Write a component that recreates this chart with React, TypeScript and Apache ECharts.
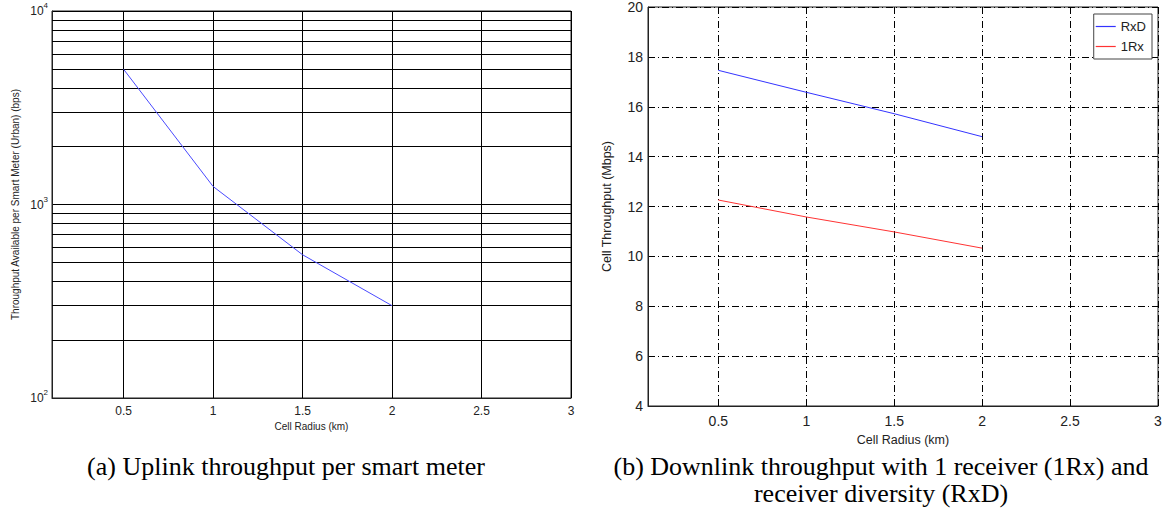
import React, { useEffect, useRef } from "react";
import * as echarts from "echarts";

// Left chart: uplink throughput per smart meter (log scale)
const radiusKm = [0.5, 1, 1.5, 2];
const uplinkBps = [5000, 1240, 550, 300];
const logMinorLines = [200, 300, 400, 500, 600, 700, 800, 900, 2000, 3000, 4000, 5000, 6000, 7000, 8000, 9000];

// Right chart: downlink throughput
const rxdMbps = [17.46, 16.58, 15.72, 14.8];
const oneRxMbps = [12.26, 11.58, 10.98, 10.33];
const seriesNames = ["RxD", "1Rx"];

const captionA = "(a) Uplink throughput per smart meter";
const captionB1 = "(b) Downlink throughput with 1 receiver (1Rx) and";
const captionB2 = "receiver diversity (RxD)";

const SANS = "'Liberation Sans', Arial, sans-serif";
const SERIF = "'Liberation Serif', 'Times New Roman', serif";
const DASHDOT = [7, 3, 1, 3];

function halfTick(v: number): string {
  return Math.abs(v * 2 - Math.round(v * 2)) < 1e-6 ? String(v) : "";
}

export default function App() {
  const ref = useRef<HTMLDivElement>(null);
  useEffect(() => {
    if (!ref.current) return;
    const chart = echarts.init(ref.current, null, { renderer: "svg" });
    chart.setOption({
      animation: false,
      backgroundColor: "#fff",
      grid: [
        { left: 52, right: 594, top: 11, bottom: 118, show: true, borderColor: "#222", borderWidth: 1, backgroundColor: "transparent" },
        { left: 648, right: 7, top: 6, bottom: 110, show: true, borderColor: "#222", borderWidth: 1, backgroundColor: "transparent" },
      ],
      legend: {
        data: seriesNames.map((n) => ({ name: n, icon: "rect" })),
        orient: "vertical",
        right: 13,
        top: 14,
        align: "left",
        borderColor: "#444",
        borderWidth: 1,
        padding: [6, 6, 6, 2],
        itemWidth: 20,
        itemHeight: 1.2,
        itemGap: 7,
        backgroundColor: "#fff",
        textStyle: { fontFamily: SANS, fontSize: 13, color: "#222" },
      },
      xAxis: [
        {
          type: "value",
          gridIndex: 0,
          min: 0.1,
          max: 3,
          splitNumber: 6,
          name: "Cell Radius (km)",
          nameLocation: "middle",
          nameGap: 21,
          nameTextStyle: { fontFamily: SANS, fontSize: 10, color: "#222" },
          axisLine: { show: true, lineStyle: { color: "#222" } },
          axisTick: { show: false },
          axisLabel: { fontFamily: SANS, fontSize: 12, color: "#222", margin: 7, formatter: halfTick },
          splitLine: { show: true, lineStyle: { color: "#000", width: 1, type: "solid" } },
        },
        {
          type: "value",
          gridIndex: 1,
          min: 0.1,
          max: 3,
          splitNumber: 6,
          name: "Cell Radius (km)",
          nameLocation: "middle",
          nameGap: 27,
          nameTextStyle: { fontFamily: SANS, fontSize: 12.5, color: "#222" },
          axisLine: { show: true, lineStyle: { color: "#222" } },
          axisTick: { show: false },
          axisLabel: { fontFamily: SANS, fontSize: 14, color: "#222", margin: 8, formatter: halfTick },
          splitLine: { show: true, lineStyle: { color: "#000", width: 1, type: DASHDOT } },
        },
      ],
      yAxis: [
        {
          type: "log",
          gridIndex: 0,
          logBase: 10,
          min: 100,
          max: 10000,
          name: "Throughput Available per Smart Meter (Urban) (bps)",
          nameLocation: "middle",
          nameGap: 32,
          nameTextStyle: { fontFamily: SANS, fontSize: 10, color: "#222" },
          axisLine: { show: true, lineStyle: { color: "#222" } },
          axisTick: { show: false },
          axisLabel: {
            margin: 4,
            formatter: (v: number) => "10{s|" + Math.round(Math.log10(v)) + "}",
            rich: {
              s: { fontFamily: SANS, fontSize: 8, color: "#222", padding: [0, 0, 11, 0] },
            },
            fontFamily: SANS,
            fontSize: 12,
            color: "#222",
          },
          splitLine: { show: true, lineStyle: { color: "#000", width: 1, type: "solid" } },
        },
        {
          type: "value",
          gridIndex: 1,
          min: 4,
          max: 20,
          interval: 2,
          name: "Cell Throughput (Mbps)",
          nameLocation: "middle",
          nameGap: 35,
          nameTextStyle: { fontFamily: SANS, fontSize: 12.5, color: "#222" },
          axisLine: { show: true, lineStyle: { color: "#222" } },
          axisTick: { show: false },
          axisLabel: { fontFamily: SANS, fontSize: 14, color: "#222", margin: 5 },
          splitLine: { show: true, lineStyle: { color: "#000", width: 1, type: DASHDOT } },
        },
      ],
      series: [
        {
          name: "uplink",
          type: "line",
          xAxisIndex: 0,
          yAxisIndex: 0,
          data: radiusKm.map((x, i) => [x, uplinkBps[i]]),
          symbol: "none",
          lineStyle: { color: "#4a4aff", width: 1 },
          silent: true,
          markLine: {
            silent: true,
            symbol: ["none", "none"],
            label: { show: false },
            lineStyle: { color: "#000", width: 1, type: "solid" },
            data: logMinorLines.map((v) => ({ yAxis: v })),
          },
          z: 5,
        },
        {
          name: "RxD",
          type: "line",
          xAxisIndex: 1,
          yAxisIndex: 1,
          data: radiusKm.map((x, i) => [x, rxdMbps[i]]),
          symbol: "none",
          lineStyle: { color: "#3333ff", width: 1 },
          itemStyle: { color: "#3333ff" },
          z: 5,
        },
        {
          name: "1Rx",
          type: "line",
          xAxisIndex: 1,
          yAxisIndex: 1,
          data: radiusKm.map((x, i) => [x, oneRxMbps[i]]),
          symbol: "none",
          lineStyle: { color: "#ff3333", width: 1 },
          itemStyle: { color: "#ff3333" },
          z: 5,
        },
      ],
      graphic: [
        { type: "text", x: 286, y: 453, style: { text: captionA, fontFamily: SERIF, fontSize: 26, fill: "#000", align: "center" } },
        { type: "text", x: 881, y: 453, style: { text: captionB1, fontFamily: SERIF, fontSize: 26, fill: "#000", align: "center" } },
        { type: "text", x: 881, y: 480, style: { text: captionB2, fontFamily: SERIF, fontSize: 26, fill: "#000", align: "center" } },
      ],
    });
    return () => chart.dispose();
  }, []);
  return (
    <div
      ref={ref}
      style={{ position: "fixed", left: 0, top: 0, width: 1165, height: 516, background: "#fff" }}
    />
  );
}
